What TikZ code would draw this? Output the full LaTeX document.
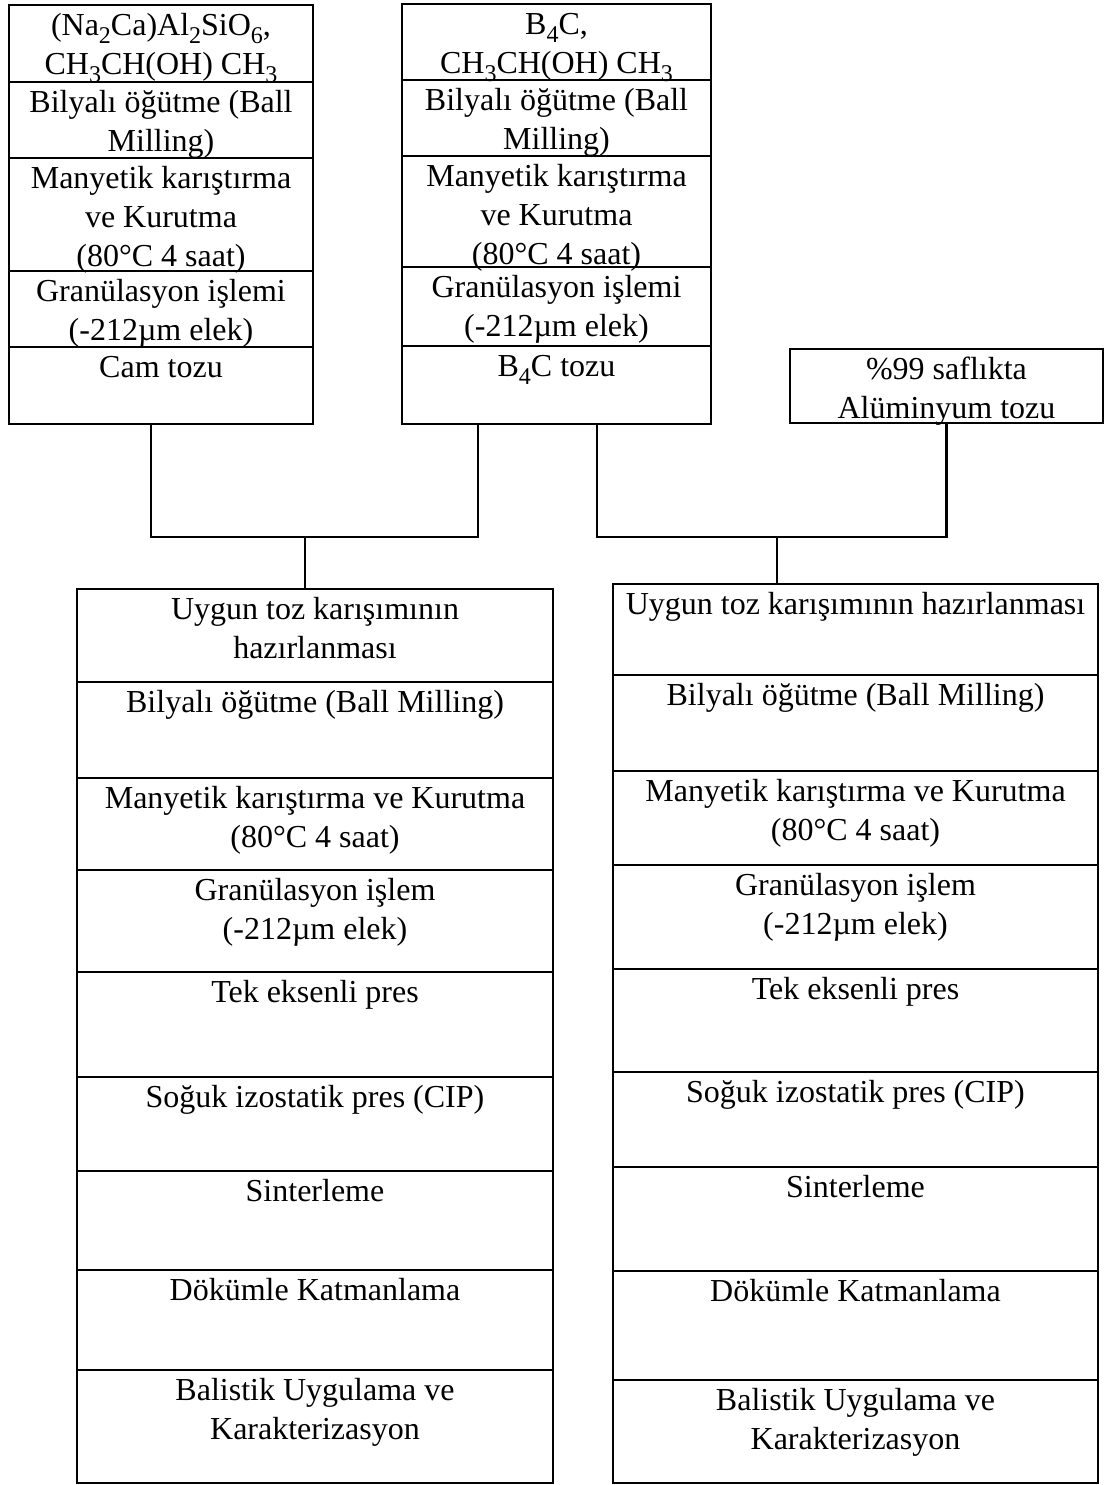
\documentclass[tikz,border=0pt]{standalone}
\usepackage{fontspec}
\setmainfont{Liberation Serif}
\newcommand\sbs[1]{\raisebox{-8pt}{\fontsize{24}{24}\selectfont #1}}
\newcommand\mystrut{\rule{0pt}{29pt}}
\tikzset{
  cellbox/.style={draw, line width=2.6pt, inner sep=0pt, outer sep=0pt},
  celltext/.style={align=center, inner sep=0pt, font=\fontsize{32}{39}\selectfont},
  conn/.style={draw, line width=2.6pt}
}
% name, x1, y1, x2, y2, text
\newcommand\mkcell[6]{%
  \node[cellbox, minimum width={#4-#2}, minimum height={#5-#3}, anchor=north west] (#1) at (#2,#3) {};
  \node[celltext, anchor=north] (#1t) at ([yshift=-1pt]#1.north) {\mystrut #6};}
\begin{document}
\begin{tikzpicture}[x=1pt,y=-1pt]
\useasboundingbox (0,0) rectangle (1105,1485);
% glass powder column
\mkcell{c1}{9}{5}{313}{82}{(Na\sbs{2}Ca)Al\sbs{2}SiO\sbs{6},\\CH\sbs{3}CH(OH) CH\sbs{3}}
\mkcell{c2}{9}{82}{313}{158}{Bilyalı öğütme (Ball\\Milling)}
\mkcell{c3}{9}{158}{313}{271}{Manyetik karıştırma\\ve Kurutma\\(80°C 4 saat)}
\mkcell{c4}{9}{271}{313}{347}{Granülasyon işlemi\\(-212µm elek)}
\mkcell{c5}{9}{347}{313}{424}{Cam tozu}
% B4C column
\mkcell{b1}{402}{4}{711}{80}{B\sbs{4}C,\\CH\sbs{3}CH(OH) CH\sbs{3}}
\mkcell{b2}{402}{80}{711}{156}{Bilyalı öğütme (Ball\\Milling)}
\mkcell{b3}{402}{156}{711}{267}{Manyetik karıştırma\\ve Kurutma\\(80°C 4 saat)}
\mkcell{b4}{402}{267}{711}{346}{Granülasyon işlemi\\(-212µm elek)}
\mkcell{b5}{402}{346}{711}{424}{B\sbs{4}C tozu}
% aluminium
\mkcell{al}{790}{349}{1103}{423}{\%99 saflıkta\\Alüminyum tozu}
% left process column
\mkcell{m1}{77}{589}{553}{682}{Uygun toz karışımının\\hazırlanması}
\mkcell{m2}{77}{682}{553}{778}{Bilyalı öğütme (Ball Milling)}
\mkcell{m3}{77}{778}{553}{870}{Manyetik karıştırma ve Kurutma\\(80°C 4 saat)}
\mkcell{m4}{77}{870}{553}{972}{Granülasyon işlem\\(-212µm elek)}
\mkcell{m5}{77}{972}{553}{1077}{Tek eksenli pres}
\mkcell{m6}{77}{1077}{553}{1171}{Soğuk izostatik pres (CIP)}
\mkcell{m7}{77}{1171}{553}{1270}{Sinterleme}
\mkcell{m8}{77}{1270}{553}{1370}{Dökümle Katmanlama}
\mkcell{m9}{77}{1370}{553}{1483}{Balistik Uygulama ve\\Karakterizasyon}
% right process column
\mkcell{n1}{613}{584}{1098}{675}{Uygun toz karışımının hazırlanması}
\mkcell{n2}{613}{675}{1098}{771}{Bilyalı öğütme (Ball Milling)}
\mkcell{n3}{613}{771}{1098}{865}{Manyetik karıştırma ve Kurutma\\(80°C 4 saat)}
\mkcell{n4}{613}{865}{1098}{969}{Granülasyon işlem\\(-212µm elek)}
\mkcell{n5}{613}{969}{1098}{1072}{Tek eksenli pres}
\mkcell{n6}{613}{1072}{1098}{1167}{Soğuk izostatik pres (CIP)}
\mkcell{n7}{613}{1167}{1098}{1271}{Sinterleme}
\mkcell{n8}{613}{1271}{1098}{1380}{Dökümle Katmanlama}
\mkcell{n9}{613}{1380}{1098}{1483}{Balistik Uygulama ve\\Karakterizasyon}
% connectors
\coordinate (jL) at (305,537);
\coordinate (jR) at (777,537);
\draw[conn] ([xshift=-10pt]c5.south) |- (jL) -| ([xshift=-78.5pt]b5.south);
\draw[conn] (jL) -- ([xshift=-10pt]m1.north);
\draw[conn] ([xshift=40.5pt]b5.south) |- (jR) -| (al.south);
\draw[conn] (jR) -- ([xshift=-78.5pt]n1.north);
\end{tikzpicture}
\end{document}
